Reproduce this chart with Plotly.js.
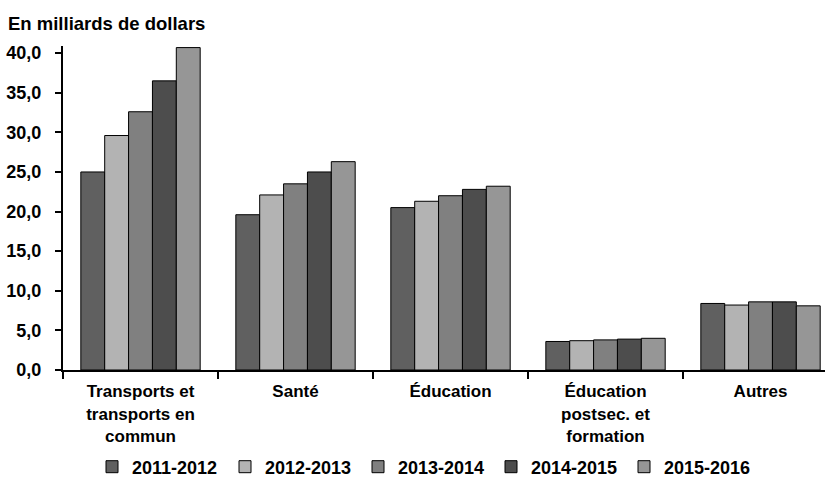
<!DOCTYPE html>
<html>
<head>
<meta charset="utf-8">
<script src="https://cdn.plot.ly/plotly-3.0.1.min.js"></script>
<style>
  html, body { margin: 0; padding: 0; background: #fff; }
  #chart { width: 825px; height: 487px; }
</style>
</head>
<body>
<div id="chart"></div>
<script>
// Spending categories (x axis)
const categories = [
  "Transports et<br>transports en<br>commun",
  "Santé",
  "Éducation",
  "Éducation<br>postsec. et<br>formation",
  "Autres"
];

// Fiscal years (one bar series each)
const years = ["2011-2012", "2012-2013", "2013-2014", "2014-2015", "2015-2016"];

// Values in billions of dollars, per year
const v2011_2012 = [25.0, 19.6, 20.5, 3.6, 8.4];
const v2012_2013 = [29.6, 22.1, 21.3, 3.7, 8.2];
const v2013_2014 = [32.6, 23.5, 22.0, 3.8, 8.6];
const v2014_2015 = [36.5, 25.0, 22.8, 3.9, 8.6];
const v2015_2016 = [40.7, 26.3, 23.2, 4.0, 8.1];

// Y axis tick values
const yTicks = [0, 5, 10, 15, 20, 25, 30, 35, 40];

const seriesValues = [v2011_2012, v2012_2013, v2013_2014, v2014_2015, v2015_2016];
const seriesColors = ["#606060", "#b3b3b3", "#808080", "#4d4d4d", "#969696"];

const FONT = "'Liberation Sans', Arial, sans-serif";

const traces = years.map((yr, i) => ({
  type: "bar",
  name: yr,
  x: categories,
  y: seriesValues[i],
  marker: { color: seriesColors[i], line: { color: "#000", width: 1 } },
  hoverinfo: "skip"
}));

const layout = {
  width: 825,
  height: 487,
  margin: { l: 63, r: 0, t: 46, b: 117 },
  paper_bgcolor: "#fff",
  plot_bgcolor: "#fff",
  barmode: "group",
  bargap: 0.23,
  bargroupgap: 0,
  separators: ", ",
  font: { family: FONT, size: 18, color: "#000" },
  title: {
    text: "<b>En milliards de dollars</b>",
    x: 8 / 825, xref: "container", xanchor: "left",
    y: 1 - 24 / 487, yref: "container", yanchor: "middle",
    font: { family: FONT, size: 18.5, color: "#000" }
  },
  xaxis: {
    type: "category",
    range: [-0.5, 4.416],
    showline: true, linecolor: "#000", linewidth: 2,
    ticks: "outside", tickson: "boundaries", ticklen: 7, tickwidth: 2, tickcolor: "#000",
    ticklabelstandoff: 5,
    showgrid: false, zeroline: false,
    tickfont: { family: FONT, size: 17, color: "#000", weight: "bold" },
    fixedrange: true
  },
  yaxis: {
    range: [0, 40.9],
    tickmode: "array",
    tickvals: yTicks,
    tickformat: ".1f",
    showline: true, linecolor: "#000", linewidth: 2,
    ticks: "outside", ticklen: 6, tickwidth: 2, tickcolor: "#000",
    ticklabelstandoff: 10,
    showgrid: false, zeroline: false,
    tickfont: { family: FONT, size: 18, color: "#000", weight: "bold" },
    fixedrange: true
  },
  showlegend: true,
  legend: {
    orientation: "h",
    x: 92 / 825, xref: "container", xanchor: "left",
    y: 1 - 467 / 487, yref: "container", yanchor: "middle",
    entrywidth: 88,
    font: { family: FONT, size: 18, color: "#000", weight: "bold" },
    itemclick: false, itemdoubleclick: false,
    traceorder: "normal"
  }
};

Plotly.newPlot("chart", traces, layout, { staticPlot: true, displayModeBar: false });
</script>
</body>
</html>
